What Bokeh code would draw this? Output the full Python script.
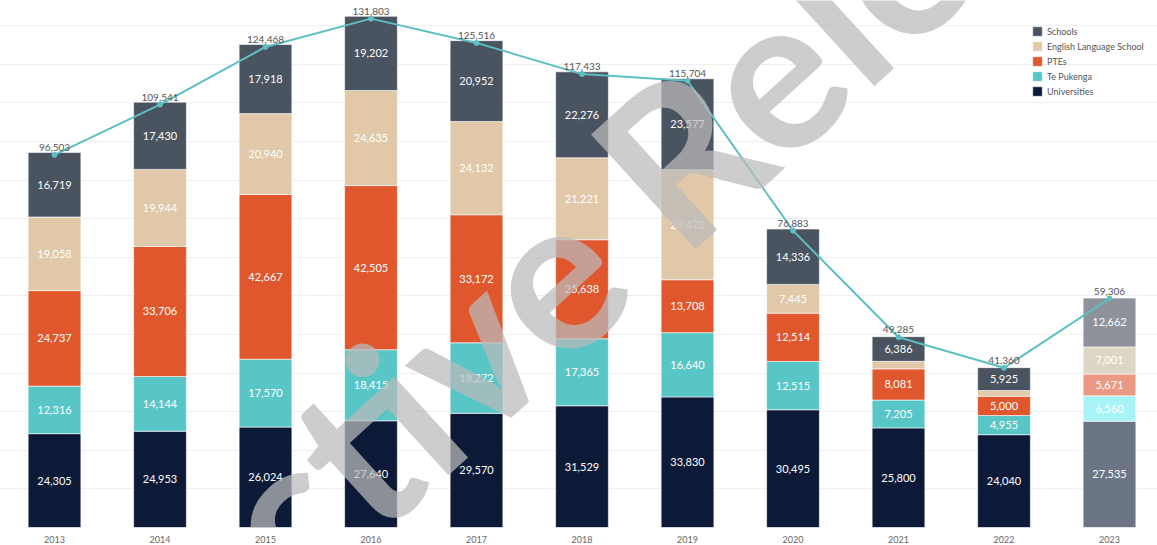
from bokeh.plotting import figure
from bokeh.models import ColumnDataSource, Range1d, FixedTicker, Legend, LegendItem
from bokeh.embed import file_html
from bokeh.resources import INLINE
from bokeh.core.properties import value
import numpy as np

years = [2013, 2014, 2015, 2016, 2017, 2018, 2019, 2020, 2021, 2022, 2023]
universities = [24305, 24953, 26024, 27640, 29570, 31529, 33830, 30495, 25800, 24040, 27535]
te_pukenga = [12316, 14144, 17570, 18415, 18272, 17365, 16640, 12515, 7205, 4955, 6560]
ptes = [24737, 33706, 42667, 42505, 33172, 25638, 13708, 12514, 8081, 5000, 5671]
english_language = [19058, 19944, 20940, 24635, 24132, 21221, 28473, 7445, 1950, 1480, 7001]
schools = [16719, 17430, 17918, 19202, 20952, 22276, 23577, 14336, 6386, 5925, 12662]
totals = [96503, 109541, 124468, 131803, 125516, 117433, 115704, 76883, 49285, 41360, 59306]

series_names = ["Universities", "Te Pukenga", "PTEs", "English Language School", "Schools"]
series_vals = [universities, te_pukenga, ptes, english_language, schools]
colors_main = ["#0c1a38", "#58c5c6", "#e0562d", "#e0c8a8", "#4a5360"]
colors_2023 = ["#6b7585", "#a8f3f7", "#ea9a82", "#ddd6c4", "#8e939b"]

FONT = "Lato"
p = figure(width=1157, height=545, output_backend="svg", toolbar_location=None,
           x_range=Range1d(2012.488, 2023.455), y_range=Range1d(0, 136500),
           min_border_left=0, min_border_right=0, min_border_top=0, min_border_bottom=14,
           outline_line_color=None, background_fill_color="white")

p.yaxis.visible = False
p.xgrid.visible = False
p.ygrid.ticker = FixedTicker(ticks=list(range(0, 140000, 10000)))
p.ygrid.grid_line_color = "#efefef"
p.xaxis.ticker = FixedTicker(ticks=years)
p.xaxis.axis_line_color = None
p.xaxis.major_tick_line_color = None
p.xaxis.minor_tick_line_color = None
p.xaxis.major_label_text_font_size = "9px"
p.xaxis.major_label_text_color = "#666666"
p.xaxis.major_label_text_font = FONT
p.xaxis.major_label_standoff = 2

vals = np.array(series_vals, dtype=float)
tops = np.cumsum(vals, axis=0)
bottoms = tops - vals
n = len(years)
renderers = {}
lx, ly, lt = [], [], []
for i, name in enumerate(series_names):
    main = ColumnDataSource(dict(x=years[:-1], b=bottoms[i][:-1], t=tops[i][:-1]))
    last = ColumnDataSource(dict(x=years[-1:], b=bottoms[i][-1:], t=tops[i][-1:]))
    r = p.vbar(x="x", bottom="b", top="t", width=0.5, source=main,
               fill_color=colors_main[i], line_color="white", line_alpha=0.6, line_width=1)
    p.vbar(x="x", bottom="b", top="t", width=0.5, source=last,
           fill_color=colors_2023[i], line_color="white", line_alpha=0.6, line_width=1)
    renderers[name] = r
    for j in range(n):
        if vals[i][j] >= 2500:
            lx.append(years[j])
            ly.append((bottoms[i][j] + tops[i][j]) / 2)
            lt.append(f"{int(vals[i][j]):,}")

p.text(x=lx, y=ly, text=lt, text_align="center", text_baseline="middle",
       text_color="white", text_font_size="11px", text_font=value(FONT))

p.line(years, totals, line_color="#5bbfc3", line_width=2)
p.scatter(years, totals, size=5, fill_color="#5bbfc3", line_color="#5bbfc3")
p.text(x=years, y=totals, text=[f"{t:,}" for t in totals], text_align="center",
       text_baseline="bottom", y_offset=-4, text_color="#555555",
       text_font_size="10px", text_font=value(FONT))

p.text(x=[2017.63], y=[65000], text=["Proactive Release"], angle=0.74,
       text_align="center", text_baseline="middle", text_color="#bababa",
       text_alpha=0.73, text_font_size="215px", text_font_style="bold",
       text_font=value(FONT))

legend = Legend(items=[LegendItem(label=nm, renderers=[renderers[nm]]) for nm in series_names[::-1]],
                location=(1031, 430), orientation="vertical", glyph_width=12, glyph_height=12,
                label_height=12, spacing=3, padding=0, margin=0, label_standoff=4,
                label_text_font_size="9px", label_text_color="#555555", label_text_font=FONT,
                border_line_color=None, background_fill_alpha=0)
p.add_layout(legend)

open("out.html", "w").write(file_html(p, INLINE))
